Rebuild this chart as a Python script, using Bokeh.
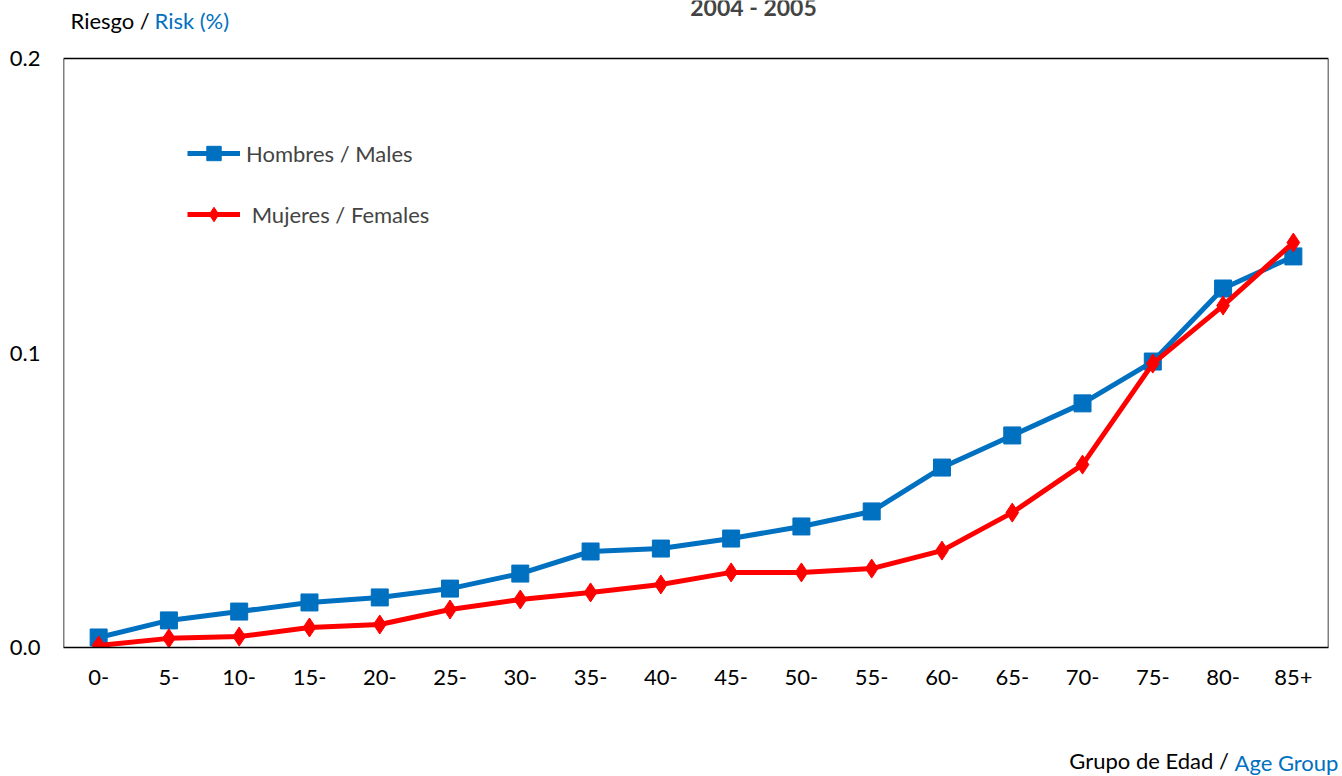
from bokeh.plotting import figure
from bokeh.models import (FactorRange, Range1d, FixedTicker, PrintfTickFormatter,
                          Legend, LegendItem, Label, ColumnDataSource)
from bokeh.embed import file_html
from bokeh.resources import INLINE

age_groups = ["0-", "5-", "10-", "15-", "20-", "25-", "30-", "35-", "40-", "45-",
              "50-", "55-", "60-", "65-", "70-", "75-", "80-", "85+"]
males = [0.0034, 0.0092, 0.0122, 0.0153, 0.0170, 0.0200, 0.0251, 0.0326, 0.0336,
         0.0370, 0.0411, 0.0462, 0.0611, 0.0720, 0.0829, 0.0971, 0.1219, 0.1328]
females = [0.0007, 0.0031, 0.0037, 0.0068, 0.0078, 0.0129, 0.0163, 0.0187, 0.0214,
           0.0255, 0.0255, 0.0268, 0.0329, 0.0458, 0.0621, 0.0964, 0.1161, 0.1375]
y_ticks = [0.0, 0.1, 0.2]

FONT = "Lato"
BLUE = "#0070C0"
RED = "#FF0000"

src = ColumnDataSource(dict(x=age_groups, m=males, f=females))

# frame reaches the top of the canvas so the titles above the box stay visible
Y_TOP = y_ticks[-1] * 647 / 589
p = figure(width=1342, height=776, x_range=FactorRange(factors=age_groups, range_padding=0),
           y_range=Range1d(0, Y_TOP), output_backend="svg", toolbar_location=None,
           min_border_left=63, min_border_top=0, min_border_right=14, min_border_bottom=129)

p.xgrid.visible = False
p.ygrid.visible = False
p.outline_line_color = None

for ax in (p.xaxis[0], p.yaxis[0]):
    ax.axis_line_color = "black"
    ax.axis_line_width = 1.5
    ax.major_tick_line_color = None
    ax.minor_tick_line_color = None
    ax.major_label_text_font = FONT
    ax.major_label_text_font_size = "22px"
    ax.major_label_text_color = "black"
p.yaxis.axis_line_color = None

p.yaxis.ticker = FixedTicker(ticks=y_ticks)
p.yaxis.formatter = PrintfTickFormatter(format="%.1f")
p.yaxis.major_label_standoff = 17
p.xaxis.major_label_standoff = 16

# plot box (left, top, right edges)
n = len(age_groups)
p.segment(x0=[0, 0, n], y0=[y_ticks[0], y_ticks[-1], y_ticks[0]],
          x1=[0, n, n], y1=[y_ticks[-1], y_ticks[-1], y_ticks[-1]],
          line_color="black", line_width=1.5)

lm = p.line("x", "m", source=src, line_color=BLUE, line_width=5)
sm = p.scatter("x", "m", source=src, marker="square", size=17, color=BLUE)
lf = p.line("x", "f", source=src, line_color=RED, line_width=5)
sf = p.scatter("x", "f", source=src, marker="diamond", size=19, color=RED)

legend = Legend(items=[LegendItem(label="Hombres / Males", renderers=[lm, sm]),
                       LegendItem(label=" Mujeres / Females", renderers=[lf, sf])],
                location=(124, 415), border_line_alpha=0, background_fill_alpha=0,
                glyph_width=53, glyph_height=36, label_height=20, spacing=25, padding=0,
                margin=0, label_standoff=6, label_text_font=FONT,
                label_text_font_size="22px")
p.add_layout(legend, "center")

# Title and y title, inside the (extended) frame
p.add_layout(Label(x=690, y=0.21732, x_units="screen", y_units="data", text="2004 - 2005",
                   text_font=FONT, text_font_size="23px", text_font_style="bold",
                   text_align="center", text_baseline="middle"))
p.add_layout(Label(x=7, y=0.2129, x_units="screen", y_units="data", text="Riesgo / ",
                   text_font=FONT, text_font_size="22px", text_color="black",
                   text_align="left", text_baseline="middle"))
p.add_layout(Label(x=91, y=0.2129, x_units="screen", y_units="data", text="Risk (%)",
                   text_font=FONT, text_font_size="22px", text_color=BLUE,
                   text_align="left", text_baseline="middle"))
# x title in the panels below the axis (offsets relative to each panel)
p.add_layout(Label(x=1171, y=-46, x_units="screen", y_units="screen", text="Grupo de Edad / ",
                   text_font=FONT, text_font_size="22px", text_color="black",
                   text_align="right", text_baseline="middle"), "below")
p.add_layout(Label(x=1171, y=-21, x_units="screen", y_units="screen", text="Age Group",
                   text_font=FONT, text_font_size="22px", text_color=BLUE,
                   text_align="left", text_baseline="middle"), "below")

open("out.html", "w").write(file_html(p, INLINE))
